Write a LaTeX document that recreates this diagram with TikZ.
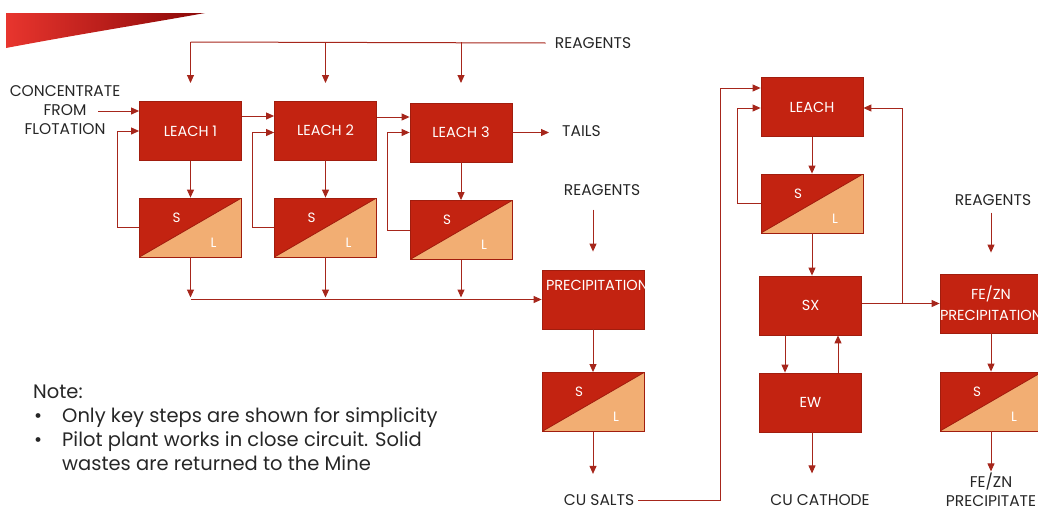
\documentclass[tikz,border=0pt]{standalone}
\usepackage{fontspec}
\setmainfont{Poppins}
\definecolor{fsRed}{HTML}{C32311}
\definecolor{fsEdge}{HTML}{A11D0E}
\definecolor{fsOrange}{HTML}{F2AE73}
\definecolor{fsLine}{HTML}{A6261B}
\definecolor{fsInk}{HTML}{262626}
\definecolor{fsHot}{HTML}{E8352E}
\definecolor{fsDeep}{HTML}{8A0707}
\usetikzlibrary{arrows.meta,positioning,calc}

\begin{document}
\begin{tikzpicture}[x=1pt,y=-1pt,
  unit/.style={draw=fsEdge,line width=0.8pt,fill=fsRed,text=white,minimum width=102pt,
               minimum height=59pt,inner sep=0pt,font=\fontsize{14.5}{17}\selectfont},
  sl/.style={draw=fsEdge,line width=0.8pt,fill=fsOrange,minimum width=102pt,minimum height=59pt,
             inner sep=0pt,
             path picture={\fill[fsRed] (path picture bounding box.north west) --
               (path picture bounding box.north east) -- (path picture bounding box.south west) -- cycle;
               \draw[fsEdge,line width=0.8pt] (path picture bounding box.south west) --
               (path picture bounding box.north east);}},
  sltext/.style={text=white,inner sep=0pt,font=\fontsize{13.5}{15}\selectfont},
  tag/.style={text=fsInk,inner sep=0pt,align=center,font=\fontsize{15.5}{19}\selectfont},
  wire/.style={draw=fsLine,line width=1pt},
  flow/.style={wire,-{Triangle[length=8pt,width=7pt]}}]
\useasboundingbox (0,0) rectangle (1038,509);
% swoosh, top left
\shade[left color=fsHot,middle color=fsHot!80!fsDeep,right color=fsDeep] (6,13) -- (205,13)
  .. controls (150,23) and (80,34) .. (6,48) -- cycle;

% leach train
\node[unit] (leachA) at (190.5,131) {LEACH 1};
\node[unit] (leachB) at (325.5,130.5) {LEACH 2};
\node[unit] (leachC) at (461,132.5) {LEACH 3};
\node[sl] (slA) at (190.5,227.5) {};
\node[sl] (slB) at (325.5,227.5) {};
\node[sl] (slC) at (461,230) {};
\node[unit] (precip) at (593,299.5) {};
\node[unit,draw=none,fill=none,minimum size=0pt,anchor=west] (precipT) at ([xshift=4pt,yshift=-16pt]precip.north west) {PRECIPITATION};
\node[sl] (slP) at (593,402) {};
% copper circuit
\node[unit] (leachR) at (812,107) {LEACH};
\node[sl] (slR) at (812,203.5) {};
\node[unit] (sx) at (810.5,305.5) {SX};
\node[unit] (ew) at (810.5,402.5) {EW};
\node[unit,align=center,font=\fontsize{14.5}{21}\selectfont] (fezn) at (991,303.5) {FE/ZN\\PRECIPITATION};
\node[sl] (slF) at (991,401.5) {};
\foreach \c in {slA,slB,slC,slP,slR,slF}{
  \node[sltext] (\c S) at ([shift={(-14,-10)}]\c.center) {S};
  \node[sltext] (\c L) at ([shift={(23,15)}]\c.center) {L};}

% outside labels
\node[tag] (reagTop) at (593,43) {REAGENTS};
\node[tag] (conc) at (65,110) {CONCENTRATE\\FROM\\FLOTATION};
\node[tag,anchor=west] (tails) at (562,131) {TAILS};
\node[tag] (reagP) at (602,190) {REAGENTS};
\node[tag] (cusalts) at (599,500) {CU SALTS};
\node[tag] (cucath) at (820,500) {CU CATHODE};
\node[tag] (reagF) at (993,200) {REAGENTS};
\node[tag] (feznOut) at (991,489.5) {FE/ZN\\PRECIPITATE};
\node[anchor=north west,inner sep=0pt,align=left,text=fsInk,font=\fontsize{19.5}{24}\selectfont] (note) at (33,385)
  {Note:\\
   \hspace*{1pt}\makebox[28pt][l]{\textbullet}Only key steps are shown for simplicity\\
   \hspace*{1pt}\makebox[28pt][l]{\textbullet}Pilot plant works in close circuit. Solid\\
   \hspace*{29pt}wastes are returned to the Mine};

% reagents header
\coordinate (topL) at (190.5,42);
\draw[wire] ([xshift=-9pt]reagTop.west) -- (topL);
\draw[flow] (topL) -- ++(0,41);
\draw[flow] (leachB.north |- topL) -- ++(0,41);
\draw[flow] (leachC.north |- topL) -- ++(0,41);
% feed and transfers
\coordinate (concIn) at (98,111);
\draw[flow] (concIn) -- (concIn -| leachA.west);
\draw[flow] ([yshift=15pt]leachA.east) -- ([yshift=15pt]leachA.east -| leachB.west);
\draw[flow] ([yshift=13.5pt]leachB.east) -- ([yshift=13.5pt]leachB.east -| leachC.west);
\draw[flow] (leachC.east) -- ([xshift=-13pt]tails.west |- leachC.east);
% solids back to leach
\draw[flow] (slA.west) -- ++(-22,0) |- (leachA.west);
\draw[flow] (slB.west) -- ++(-22,0) |- ([yshift=-2pt]leachB.west);
\draw[flow] (slC.west) -- ++(-22,0) |- (leachC.west);
\foreach \u in {A,B,C}{
  \draw[flow] (leach\u.south) -- (sl\u.north);
  \draw[flow] (sl\u.south) -- ([yshift=2pt]sl\u.south |- precip.west);}
\draw[flow] (slA.south |- precip.west) -- (precip.west);
% precipitation
\draw[flow] ([yshift=60pt]precip.north) -- ([yshift=18pt]precip.north);
\draw[flow] (precip.south) -- (slP.north);
\draw[flow] (slP.south) -- ++(0,42);
\coordinate (riseX) at (720,88);
\draw[flow] ([xshift=4pt]cusalts.east) -| (riseX) -- (riseX -| leachR.west);
% copper circuit
\draw[flow] (slR.west) -- ++(-23,0) |- ([yshift=-1pt]leachR.west);
\draw[flow] (leachR.south) -- (slR.north);
\draw[flow] (slR.south) -- (slR.south |- sx.north);
\coordinate (tap) at (902,303.5);
\draw[flow] (sx.east |- fezn.west) -- (fezn.west);
\draw[flow] (tap) |- ([yshift=-1pt]leachR.east);
\draw[flow] ([xshift=-25.5pt]sx.south) -- ([xshift=-25.5pt]ew.north);
\draw[flow] ([xshift=27.5pt]ew.north) -- ([xshift=27.5pt]sx.south);
\draw[flow] ([xshift=1.5pt]ew.south) -- ++(0,41);
% fe/zn
\draw[flow] ([yshift=61pt]fezn.north) -- ([yshift=21pt]fezn.north);
\draw[flow] (fezn.south) -- (slF.north);
\draw[flow] (slF.south) -- ++(0,40);
\end{tikzpicture}
\end{document}
